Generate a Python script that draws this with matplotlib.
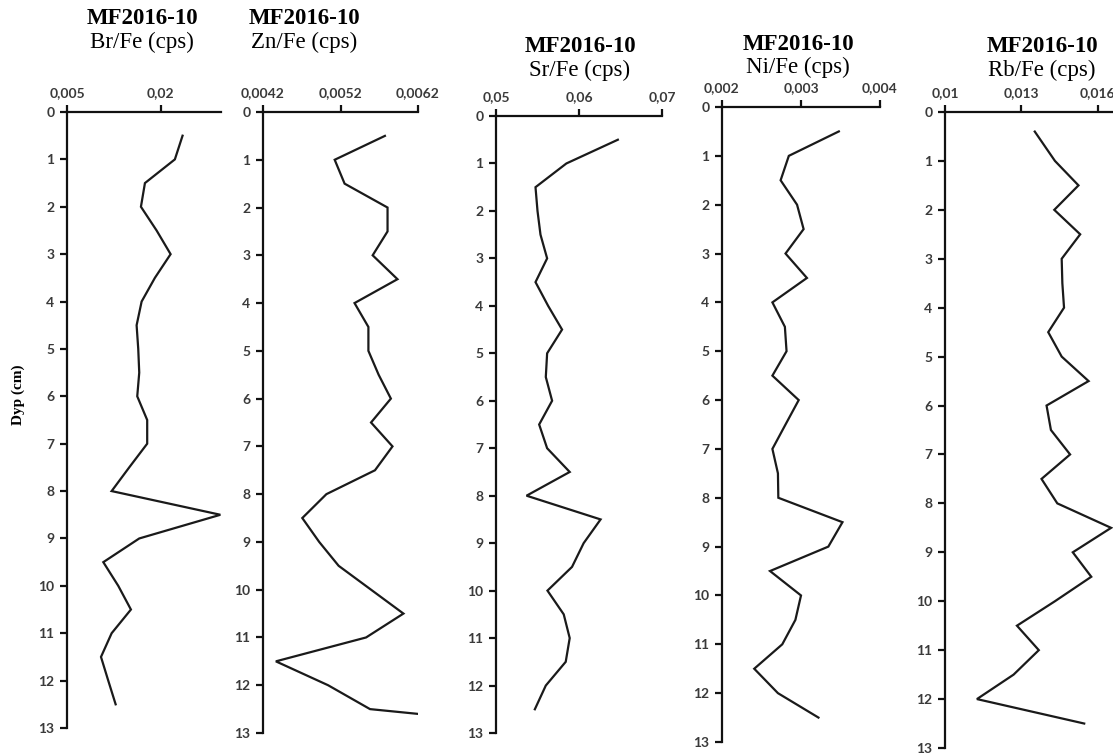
import numpy as np
import matplotlib.pyplot as plt
from matplotlib.ticker import FixedLocator, FixedFormatter


# depth (cm) of the samples, every 0,5 cm
depth = [0.5, 1.0, 1.5, 2.0, 2.5, 3.0, 3.5, 4.0, 4.5, 5.0, 5.5, 6.0, 6.5,
         7.0, 7.5, 8.0, 8.5, 9.0, 9.5, 10.0, 10.5, 11.0, 11.5, 12.0, 12.5]

br_fe = [0.02346, 0.02223, 0.01745, 0.01681, 0.01931, 0.02155, 0.01904, 0.01692,
         0.01612, 0.01638, 0.01654, 0.01622, 0.01781, 0.01781, 0.01494, 0.01213,
         0.02950, 0.01654, 0.01080, 0.01319, 0.01521, 0.01213, 0.01043, 0.01159,
         0.01277]

zn_depth = depth + [12.6]
zn_fe = [0.005773, 0.005125, 0.005253, 0.005807, 0.005807, 0.005615, 0.005935,
         0.005381, 0.005560, 0.005560, 0.005692, 0.005850, 0.005594, 0.005871,
         0.005645, 0.005018, 0.004707, 0.004925, 0.005176, 0.005594, 0.006012,
         0.005530, 0.004366, 0.005040, 0.005581, 0.006200]

sr_fe = [0.06468, 0.05848, 0.05476, 0.05500, 0.05536, 0.05616, 0.05476, 0.05628,
         0.05796, 0.05616, 0.05600, 0.05676, 0.05520, 0.05616, 0.05888, 0.05368,
         0.06260, 0.06056, 0.05916, 0.05620, 0.05816, 0.05888, 0.05840, 0.05600,
         0.05468]

ni_fe = [0.003479, 0.002846, 0.002742, 0.002950, 0.003033, 0.002804, 0.003075,
         0.002638, 0.002796, 0.002817, 0.002638, 0.002971, 0.002804, 0.002638,
         0.002708, 0.002713, 0.003525, 0.003346, 0.002608, 0.003000, 0.002929,
         0.002763, 0.002408, 0.002708, 0.003221]

rb_depth = [0.4] + depth[1:]
rb_fe = [0.013528, 0.014321, 0.015246, 0.014295, 0.015313, 0.014586, 0.014612,
         0.014678, 0.014057, 0.014586, 0.015643, 0.013991, 0.014163, 0.014916,
         0.013793, 0.014414, 0.016528, 0.015022, 0.015749, 0.014321, 0.012828,
         0.013687, 0.012696, 0.011255, 0.015471]

depth_ticks = list(range(0, 14))

panels = [
    # name, depths, values, x ticks, x tick labels, x max
    ("Br/Fe (cps)", depth, br_fe, [0.005, 0.02], ["0,005", "0,02"], 0.0296),
    ("Zn/Fe (cps)", zn_depth, zn_fe, [0.0042, 0.0052, 0.0062], ["0,0042", "0,0052", "0,0062"], 0.0062),
    ("Sr/Fe (cps)", depth, sr_fe, [0.05, 0.06, 0.07], ["0,05", "0,06", "0,07"], 0.07),
    ("Ni/Fe (cps)", depth, ni_fe, [0.002, 0.003, 0.004], ["0,002", "0,003", "0,004"], 0.004),
    ("Rb/Fe (cps)", rb_depth, rb_fe, [0.01, 0.013, 0.016, 0.019], ["0,01", "0,013", "0,016", "0,019"], 0.019),
]

# pixel boxes of each panel: left, right, top (depth 0), bottom (depth 13)
boxes = [(67, 221, 112, 728), (263, 418, 112, 733), (496, 662, 116, 733),
         (722, 880, 107, 742), (945, 1174, 112, 748)]
title_x = [142, 304, 580, 798, 1042]
title_y = [19, 19, 47, 44, 47]

W, H = 1113, 753
fig = plt.figure(figsize=(W / 100, H / 100), dpi=100)

for (name, d, v, xt, xtl, xmax), (x0, x1, yt, yb), tx, ty in zip(panels, boxes, title_x, title_y):
    ax = fig.add_axes([x0 / W, 1 - yb / H, (x1 - x0) / W, (yb - yt) / H])
    ax.plot(v, d, color="#1a1a1a", lw=1.6, solid_joinstyle="miter")
    ax.set_xlim(xt[0], xmax)
    ax.set_ylim(13, 0)
    for s in ["bottom", "right"]:
        ax.spines[s].set_visible(False)
    for s in ["left", "top"]:
        ax.spines[s].set_linewidth(1.6)
        ax.spines[s].set_color("#111111")
    ax.xaxis.tick_top()
    ax.xaxis.set_major_locator(FixedLocator(xt))
    ax.xaxis.set_major_formatter(FixedFormatter(xtl))
    ax.set_yticks(depth_ticks)
    ax.tick_params(axis="both", direction="out", length=5, width=1.6, color="#111111",
                   labelcolor="#3a3a3a", pad=4)
    for lab in ax.get_xticklabels() + ax.get_yticklabels():
        lab.set_fontfamily("Lato")
        lab.set_fontweight("bold")
        lab.set_fontsize(10)
    fig.text(tx / W, 1 - ty / H, "MF2016-10", ha="center", va="center",
             family="Liberation Serif", weight="bold", size=16.5)
    fig.text(tx / W, 1 - (ty + 23) / H, name, ha="center", va="center",
             family="Liberation Serif", size=16.5)

fig.text(18 / W, 1 - 395 / H, "Dyp (cm)", rotation=90, ha="center", va="center",
         family="Liberation Serif", weight="bold", size=11)

fig.savefig("out.png", dpi=100)
